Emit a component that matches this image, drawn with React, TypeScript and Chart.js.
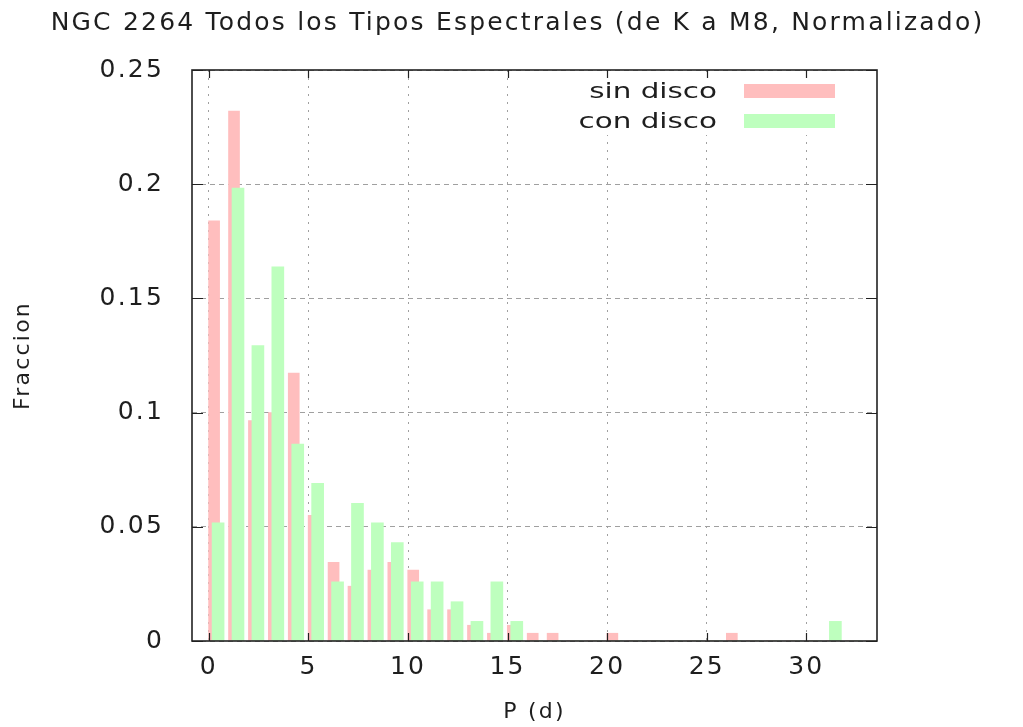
import { useEffect, useRef } from "react";
import { Chart, registerables } from "chart.js";

Chart.register(...registerables);

// ---- data ----
const bins = [0, 1, 2, 3, 4, 5, 6, 7, 8, 9, 10, 11, 12, 13, 14, 15, 16, 17, 18, 19, 20, 21, 22, 23, 24, 25, 26, 27, 28, 29, 30, 31, 32, 33];
const sinDisco = [0.184, 0.232, 0.0965, 0.1, 0.1173, 0.055, 0.0344, 0.024, 0.031, 0.0344, 0.031, 0.0137, 0.0137, 0.0069, 0.0034, 0.0069, 0.0034, 0.0034, 0, 0, 0.0034, 0, 0, 0, 0, 0, 0.0034, 0, 0, 0, 0, 0, 0, 0];
const conDisco = [0.0517, 0.1983, 0.1293, 0.1638, 0.0862, 0.069, 0.0259, 0.0603, 0.0517, 0.0431, 0.0259, 0.0259, 0.0172, 0.0086, 0.0259, 0.0086, 0, 0, 0, 0, 0, 0, 0, 0, 0, 0, 0, 0, 0, 0, 0, 0.0086, 0, 0];
const seriesLabels = ["sin disco", "con disco"];
const xTicks = [0, 5, 10, 15, 20, 25, 30];
const xTickLabels = ["0", "5", "10", "15", "20", "25", "30"];
const yTicks = [0, 0.05, 0.1, 0.15, 0.2, 0.25];
const yTickLabels = ["0", "0.05", "0.1", "0.15", "0.2", "0.25"];
const titleText = "NGC 2264 Todos los Tipos Espectrales (de K a M8, Normalizado)";
const xTitle = "P (d)";
const yTitle = "Fraccion";

// ---- styles ----
const PINK = "rgb(255,190,190)";
const GREEN = "rgb(190,255,190)";
const TEXT = "#1e1e1e";
const GRID = "#a0a0a0";
const FONT = '"DejaVu Sans", sans-serif';
const PINK_OFFSET = 0.26;
const GREEN_OFFSET = 0.46;

const spacingPlugin = {
  id: "spacing",
  beforeUpdate(chart: any) { chart.ctx.letterSpacing = "2.2px"; },
  beforeLayout(chart: any) { chart.ctx.letterSpacing = "2.2px"; },
  beforeDraw(chart: any) { chart.ctx.letterSpacing = "2.2px"; },
};

const framePlugin = {
  id: "frame",
  afterDraw(chart: any) {
    const { ctx, chartArea, scales } = chart;
    const { left, right, top, bottom } = chartArea;
    ctx.save();
    ctx.letterSpacing = "0px";
    // legend background (key box hides grid)
    ctx.fillStyle = "#ffffff";
    ctx.fillRect(570, top + 7, 280, 58);
    // ticks
    ctx.setLineDash([]);
    ctx.strokeStyle = "#222";
    ctx.lineWidth = 1.2;
    ctx.beginPath();
    scales.x.ticks.forEach((t: any) => {
      const px = Math.round(scales.x.getPixelForValue(t.value)) + 0.5;
      ctx.moveTo(px, bottom); ctx.lineTo(px, bottom - 8);
      ctx.moveTo(px, top); ctx.lineTo(px, top + 8);
    });
    scales.y.ticks.forEach((t: any) => {
      const py = Math.round(scales.y.getPixelForValue(t.value)) + 0.5;
      ctx.moveTo(left, py); ctx.lineTo(left + 11, py);
      ctx.moveTo(right, py); ctx.lineTo(right - 11, py);
    });
    ctx.stroke();
    ctx.lineWidth = 1.6;
    ctx.strokeRect(left, top, right - left, bottom - top);
    // legend (gnuplot style: text right-aligned, sample box on the right)
    const ds = chart.data.datasets;
    ds.forEach((d: any, i: number) => {
      const cy = top + 21 + i * 30;
      ctx.fillStyle = d.backgroundColor;
      ctx.fillRect(744, cy - 7, 91, 14);
      ctx.save();
      ctx.font = `21px ${FONT}`;
      ctx.fillStyle = TEXT;
      ctx.textAlign = "right";
      ctx.textBaseline = "alphabetic";
      ctx.translate(717, cy + 7);
      ctx.scale(1.4, 1);
      ctx.fillText(d.label, 0, 0);
      ctx.restore();
    });
    ctx.restore();
  },
};

export default function App() {
  const ref = useRef<HTMLCanvasElement | null>(null);
  useEffect(() => {
    document.body.style.margin = "0";
    const canvas = ref.current!;
    const chart = new Chart(canvas, {
      type: "bar",
      data: {
        datasets: [
          {
            label: seriesLabels[0],
            data: bins.map((b, i) => ({ x: b + PINK_OFFSET, y: sinDisco[i] })),
            backgroundColor: PINK,
            borderWidth: 0,
            barThickness: 11,
            grouped: false,
            order: 2,
          },
          {
            label: seriesLabels[1],
            data: bins.map((b, i) => ({ x: b + GREEN_OFFSET, y: conDisco[i] })),
            backgroundColor: GREEN,
            borderWidth: 0,
            barThickness: 12,
            grouped: false,
            order: 1,
          },
        ],
      } as any,
      options: {
        animation: false,
        responsive: false,
        events: [],
        layout: { padding: { left: 12, right: 0, top: 0, bottom: 0 } },
        plugins: {
          legend: { display: false },
          tooltip: { enabled: false },
          title: {
            display: true,
            text: titleText,
            color: TEXT,
            font: { family: FONT, size: 25, weight: "normal", lineHeight: 1.2 },
            padding: { top: 8, bottom: 32 },
          },
        },
        scales: {
          x: {
            type: "linear",
            min: -0.85,
            max: 33.55,
            offset: false,
            afterFit: (s: any) => { s.height = 86; },
            afterBuildTicks: (s: any) => { s.ticks = xTicks.map((v) => ({ value: v })); },
            ticks: {
              color: TEXT,
              font: { family: FONT, size: 25 },
              padding: 11,
              maxRotation: 0,
              callback: (v: any) => { const k = xTicks.indexOf(Number(v)); return k >= 0 ? xTickLabels[k] : ""; },
            },
            grid: { color: GRID, lineWidth: 1, drawTicks: false, offset: false },
            border: { display: false, dash: [2, 6] },
            title: {
              display: true,
              text: xTitle,
              color: TEXT,
              font: { family: FONT, size: 22, lineHeight: 1 },
              padding: { top: 0, bottom: 4 },
            },
          },
          y: {
            type: "linear",
            min: 0,
            max: 0.25,
            afterFit: (s: any) => { s.width = 180; },
            afterBuildTicks: (s: any) => { s.ticks = yTicks.map((v) => ({ value: v })); },
            ticks: {
              color: TEXT,
              font: { family: FONT, size: 25 },
              padding: 28,
              callback: (v: any) => { const k = yTicks.findIndex((t) => Math.abs(t - Number(v)) < 1e-9); return k >= 0 ? yTickLabels[k] : ""; },
            },
            grid: { color: GRID, lineWidth: 1, drawTicks: false },
            border: { display: false, dash: [5, 4] },
            title: {
              display: true,
              text: yTitle,
              color: TEXT,
              font: { family: FONT, size: 22, lineHeight: 1 },
              padding: { top: 0, bottom: 0 },
            },
          },
          yR: {
            type: "linear",
            position: "right",
            display: true,
            afterFit: (s: any) => { s.width = 146; },
            ticks: { display: false },
            grid: { display: false },
            border: { display: false },
          },
        },
      } as any,
      plugins: [spacingPlugin, framePlugin],
    });
    return () => chart.destroy();
  }, []);
  return (
    <div style={{ position: "fixed", left: 0, top: 0, width: 1023, height: 727, background: "#fff" }}>
      <canvas ref={ref} width={1023} height={727} style={{ display: "block" }} />
    </div>
  );
}
